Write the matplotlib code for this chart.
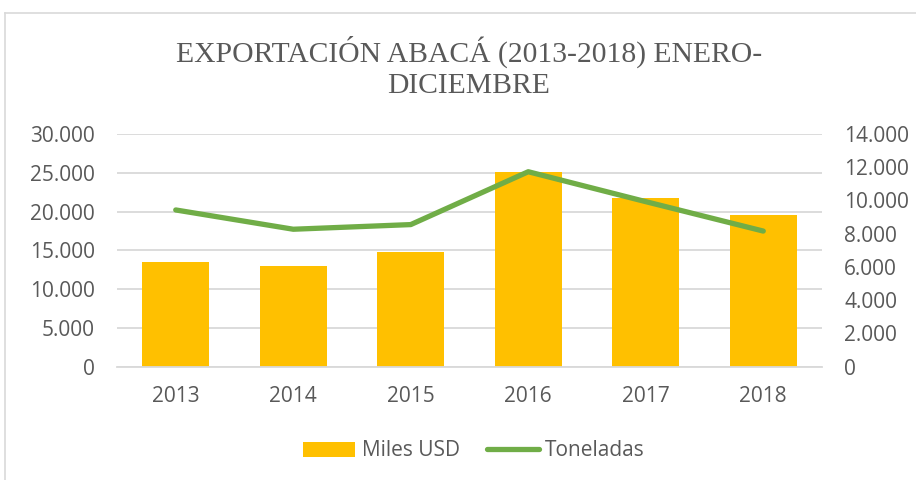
import matplotlib
matplotlib.use("Agg")
import matplotlib.pyplot as plt
from matplotlib.lines import Line2D
import numpy as np

years = ["2013", "2014", "2015", "2016", "2017", "2018"]
miles_usd = [13500, 13000, 14750, 25100, 21800, 19500]
toneladas = [9430, 8270, 8550, 11730, 9930, 8160]
left_ticks = [0, 5000, 10000, 15000, 20000, 25000, 30000]
right_ticks = [0, 2000, 4000, 6000, 8000, 10000, 12000, 14000]
title_lines = ["EXPORTACIÓN ABACÁ (2013-2018) ENERO-", "DICIEMBRE"]

def fmt(v):
    return f"{v:,}".replace(",", ".")

TXT = "#595959"
GRID = "#D9D9D9"
BAR = "#FFC000"
LINE = "#70AD47"
FONT = ["Open Sans", "DejaVu Sans"]
FS = 15

fig = plt.figure(figsize=(9.16, 4.8), dpi=100)
fig.patch.set_facecolor("white")

# chart border (left and top visible)
fig.add_artist(Line2D([5/916, 5/916], [0, 1 - 13/480], color=GRID, lw=1.2, transform=fig.transFigure))
fig.add_artist(Line2D([5/916, 1], [1 - 13/480, 1 - 13/480], color=GRID, lw=1.2, transform=fig.transFigure))

ax = fig.add_axes([117/916, 1 - 366.7/480, (822 - 117)/916, (366.7 - 134)/480])
ax2 = ax.twinx()

x = np.arange(len(years))
ax.bar(x, miles_usd, width=0.57, color=BAR, zorder=2, label="Miles USD")
ax2.plot(x, toneladas, color=LINE, lw=3.8, solid_capstyle="round", solid_joinstyle="round", zorder=3, label="Toneladas")

ax.set_xlim(-0.5, len(years) - 0.5)
ax.set_ylim(0, 30000)
ax2.set_ylim(0, 14000)
ax.set_yticks(left_ticks)
ax.set_yticklabels([fmt(v) for v in left_ticks])
ax2.set_yticks(right_ticks)
ax2.set_yticklabels([fmt(v) for v in right_ticks])
ax.set_xticks(x)
ax.set_xticklabels(years)

ax.grid(axis="y", color=GRID, lw=1.3, zorder=0)
ax.set_axisbelow(True)
for a in (ax, ax2):
    for s in a.spines.values():
        s.set_visible(False)
    a.tick_params(length=0, colors=TXT, labelsize=FS)
    for lbl in a.get_xticklabels() + a.get_yticklabels():
        lbl.set_fontfamily(FONT)
ax.spines["bottom"].set_visible(True)
ax.spines["bottom"].set_color(GRID)
ax.spines["bottom"].set_linewidth(1.3)
ax.tick_params(axis="y", pad=16)
ax2.tick_params(axis="y", pad=16)
ax.tick_params(axis="x", pad=14)
ax2.set_zorder(ax.get_zorder() + 1)
ax2.patch.set_visible(False)

for i, (line, ybase) in enumerate(zip(title_lines, [62, 93])):
    fig.text(469/916, 1 - ybase/480, line, ha="center", va="baseline", fontsize=21.3,
             color=TXT, family=["Liberation Serif", "DejaVu Serif"])

h1, l1 = ax.get_legend_handles_labels()
h2, l2 = ax2.get_legend_handles_labels()
leg = fig.legend(h1 + h2, l1 + l2, loc="center", bbox_to_anchor=(474/916, 1 - 451/480),
                 ncol=2, frameon=False, prop={"family": FONT, "size": FS},
                 handlelength=2.5, handletextpad=0.3, columnspacing=1.3)
for t in leg.get_texts():
    t.set_color(TXT)

fig.savefig("out.png", dpi=100, facecolor="white")
